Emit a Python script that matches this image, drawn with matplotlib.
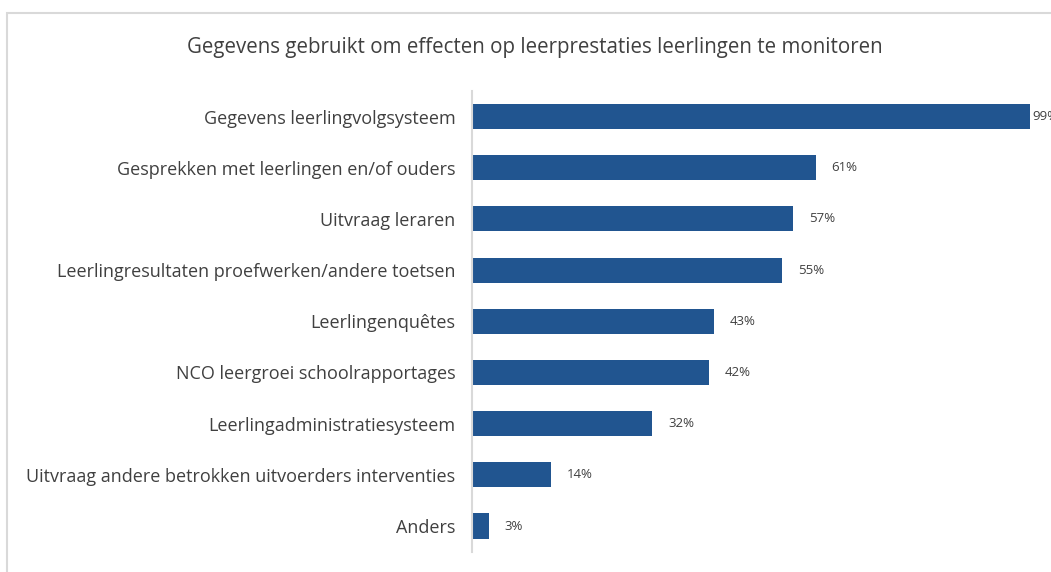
import matplotlib
matplotlib.use("Agg")
import matplotlib.pyplot as plt
from matplotlib.patches import Rectangle

categories = [
    "Gegevens leerlingvolgsysteem",
    "Gesprekken met leerlingen en/of ouders",
    "Uitvraag leraren",
    "Leerlingresultaten proefwerken/andere toetsen",
    "Leerlingenquêtes",
    "NCO leergroei schoolrapportages",
    "Leerlingadministratiesysteem",
    "Uitvraag andere betrokken uitvoerders interventies",
    "Anders",
]
values = [99, 61, 57, 55, 43, 42, 32, 14, 3]
title = "Gegevens gebruikt om effecten op leerprestaties leerlingen te monitoren"

W, H = 1051, 572
fig = plt.figure(figsize=(W / 100, H / 100), dpi=100)
plt.rcParams['font.family'] = ['Open Sans', 'DejaVu Sans']

# outer frame
fig.patches.append(Rectangle((7 / W, -0.1), 1.2, 1 - 13 / H + 0.1, transform=fig.transFigure,
                             fill=False, edgecolor="#d9d9d9", linewidth=1.5))

left = 472 / W
right = 1035.6 / W
top = 1 - 91 / H
bottom = 1 - 551.6 / H
ax = fig.add_axes([left, bottom, right - left, top - bottom])

bar_color = "#215590"
text_color = "#404040"
ypos = list(range(len(categories)))
ax.barh(ypos, values, height=0.49, color=bar_color)
ax.set_ylim(len(categories) - 0.5, -0.5)
ax.set_xlim(0, 100)
ax.set_yticks(ypos)
ax.set_yticklabels(categories, fontsize=13, color=text_color)
ax.tick_params(axis="y", length=0, pad=12)
ax.set_xticks([])
for s in ["top", "right", "bottom"]:
    ax.spines[s].set_visible(False)
ax.spines["left"].set_color("#d9d9d9")
ax.spines["left"].set_linewidth(1.5)

vmax = max(values)
for y, v in zip(ypos, values):
    off = 0.4 if v == vmax else 2.8
    ax.text(v + off, y, f"{v}%", va="center", ha="left", fontsize=9.5,
            color=text_color, clip_on=False)

fig.text(535 / W, 1 - 47 / H, title, ha="center", va="center", fontsize=14.8, color=text_color)

fig.savefig("out.png", dpi=100)
